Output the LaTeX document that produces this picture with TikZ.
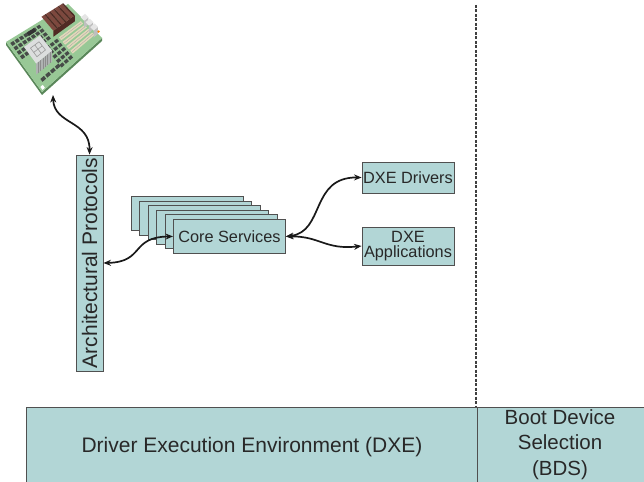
\documentclass[tikz,border=0pt]{standalone}
\usepackage{fontspec}
\setmainfont{Liberation Sans}
\usetikzlibrary{arrows.meta}

\definecolor{boxfill}{RGB}{178,214,214}
\definecolor{boxline}{RGB}{80,80,80}
\definecolor{txt}{RGB}{40,40,40}
\definecolor{pcb}{RGB}{152,200,150}
\definecolor{pcbside}{RGB}{90,135,90}
\definecolor{chip}{RGB}{70,75,72}
\definecolor{fin}{RGB}{125,72,62}
\definecolor{findark}{RGB}{80,42,36}
\definecolor{slot}{RGB}{226,216,186}
\definecolor{cpu}{RGB}{175,178,178}
\definecolor{cputop}{RGB}{220,222,222}

% point on the circuit board, bilinear in (u,v), raised by h
\newcommand\mbh[3]{({6+62*(#2)+36*(#3)-2*(#2)*(#3)},{42-38*(#2)+50*(#3)-16*(#2)*(#3)-(#1)})}
\newcommand\mb[2]{\mbh{0}{#1}{#2}}
% small flat patch on the board
\newcommand\patch[5]{\fill[#5] \mb{#1}{#2} -- \mb{#3}{#2} -- \mb{#3}{#4} -- \mb{#1}{#4} -- cycle;}
% raised patch
\newcommand\rpatch[6]{\fill[#6] \mbh{#1}{#2}{#3} -- \mbh{#1}{#4}{#3} -- \mbh{#1}{#4}{#5} -- \mbh{#1}{#2}{#5} -- cycle;}

\tikzset{
  block/.style={draw=boxline, line width=0.9pt, fill=boxfill, text=txt,
    inner sep=0pt, align=center},
  small/.style={font=\fontsize{16.3}{15.5}\selectfont},
  large/.style={font=\fontsize{21}{25}\selectfont},
  link/.style={line width=1.7pt, black!90,
    {Stealth[length=7.5pt,width=6pt]}-{Stealth[length=7.5pt,width=6pt]}},
  phase/.style={draw=boxline, line width=0.9pt, fill=boxfill, text=txt,
    inner sep=0pt, align=center, anchor=north west},
}

\begin{document}
\begin{tikzpicture}[x=1pt,y=-1pt]
\useasboundingbox (0,0) rectangle (644,481);
\clip (0,0) rectangle (644,481);
\fill[white] (0,0) rectangle (644,481);

% ---- circuit board ----
\fill[pcbside] \mb{0}{0} -- \mb{0}{1} -- \mb{1}{1} -- \mbh{-3}{1}{1} -- \mbh{-3}{0}{1} -- \mbh{-3}{0}{0} -- cycle;
\fill[pcb] \mb{0}{0} -- \mb{1}{0} -- \mb{1}{1} -- \mb{0}{1} -- cycle;
% rows of chips
\foreach \u in {0.04,0.11,...,0.5}
  \foreach \v in {0.05,0.14,0.23,0.32}
    \patch{\u}{\v}{\u+0.05}{\v+0.06}{chip};
\foreach \u in {0.38,0.45,0.52}
  \foreach \v in {0.45,0.55,0.65,0.75,0.85}
    \patch{\u}{\v}{\u+0.05}{\v+0.06}{chip};
\foreach \u in {0.08,0.16,0.24,0.32}
  \patch{\u}{0.82}{\u+0.06}{0.88}{chip};
\patch{0.30}{0.05}{0.42}{0.12}{black!80};
\patch{0.02}{0.92}{0.06}{0.98}{white};
% expansion slots
\foreach \v in {0.45,0.56,0.67,0.78}
  \patch{0.6}{\v}{0.96}{\v+0.07}{slot};
\foreach \v in {0.45,0.56,0.67,0.78}
  \draw[black!35, line width=0.3pt] \mb{0.61}{\v+0.035} -- \mb{0.95}{\v+0.035};
% back-panel connectors
\foreach \v in {0.5,0.64,0.78}{
  \fill[black!25] \mb{0.93}{\v+0.1} -- \mb{1}{\v+0.1} -- \mbh{7}{1}{\v+0.1} -- \mbh{7}{0.93}{\v+0.1} -- cycle;
  \rpatch{7}{0.93}{\v}{1}{\v+0.1}{black!10};
}
\fill[orange] \mbh{3}{1}{0.9} circle (1.3pt);
% memory heat sink
\fill[findark] \mb{0.55}{0.38} -- \mb{0.9}{0.38} -- \mbh{6}{0.9}{0.38} -- \mbh{6}{0.55}{0.38} -- cycle;
\foreach \u in {0.55,0.62,0.69,0.76,0.83}
  \rpatch{6}{\u}{0.04}{\u+0.05}{0.38}{fin};
\foreach \u in {0.6,0.67,0.74,0.81,0.88}
  \rpatch{6}{\u}{0.04}{\u+0.02}{0.38}{findark};
% processor with cooler
\fill[cpu!80!black] \mb{0.33}{0.72} -- \mb{0.33}{0.38} -- \mbh{11}{0.33}{0.38} -- \mbh{11}{0.33}{0.72} -- cycle;
\fill[cpu] \mb{0.07}{0.72} -- \mb{0.33}{0.72} -- \mbh{11}{0.33}{0.72} -- \mbh{11}{0.07}{0.72} -- cycle;
\foreach \u in {0.1,0.14,...,0.31}
  \draw[black!45, line width=0.4pt] \mb{\u}{0.72} -- \mbh{11}{\u}{0.72};
\rpatch{11}{0.07}{0.38}{0.33}{0.72}{cputop};
\draw[black!40, line width=0.6pt] \mbh{11}{0.13}{0.46} -- \mbh{11}{0.27}{0.46} -- \mbh{11}{0.27}{0.64} -- \mbh{11}{0.13}{0.64} -- cycle
  \mbh{11}{0.2}{0.46} -- \mbh{11}{0.2}{0.64}
  \mbh{11}{0.13}{0.55} -- \mbh{11}{0.27}{0.55};
\coordinate (board) at (53,95);

% ---- phase boundary ----
\draw[boxline!80!black, line width=1.3pt, dash pattern=on 3pt off 1.5pt] (476,5) -- (476,407);

% ---- phases ----
\node[phase, large, minimum width=451pt, minimum height=80pt] (dxe) at (26,407)
  {Driver Execution Environment (DXE)};
\node[phase, minimum width=170pt, minimum height=80pt] (bds) at (477,407) {};
\node[text=txt, align=center, inner sep=0pt, font=\fontsize{20.5}{25.5}\selectfont]
  (bdstext) at (560,444.5) {Boot Device\\Selection\\(BDS)};

% ---- architectural protocols ----
\node[block, large, rotate=90, minimum width=216pt, minimum height=27pt] (arch) at (89.5,263)
  {Architectural Protocols};

% ---- core services stack ----
\foreach \i in {0,...,4}
  \node[block, minimum width=112pt, minimum height=34pt, anchor=north west]
    (layer\i) at ({131+8.4*\i},{196+4.6*\i}) {};
\node[block, small, minimum width=112pt, minimum height=34pt, anchor=north west] (core) at (173,219)
  {Core Services};

% ---- DXE components ----
\node[block, small, minimum width=92pt, minimum height=31pt] (drivers) at (408,177.5)
  {DXE Drivers};
\node[block, small, minimum width=92pt, minimum height=38pt] (apps) at (408,246)
  {DXE\\Applications};

% ---- connectors ----
\draw[link] (board) .. controls (54,125) and (90,120) .. (arch.east);
\draw[link] (arch.south) .. controls (145,262) and (130,237) .. (core.west);
\draw[link] (core.east) .. controls (325,232) and (310,177) .. (drivers.west);
\draw[link] (core.east) .. controls (320,236) and (325,250) .. (apps.west);
\end{tikzpicture}
\end{document}
